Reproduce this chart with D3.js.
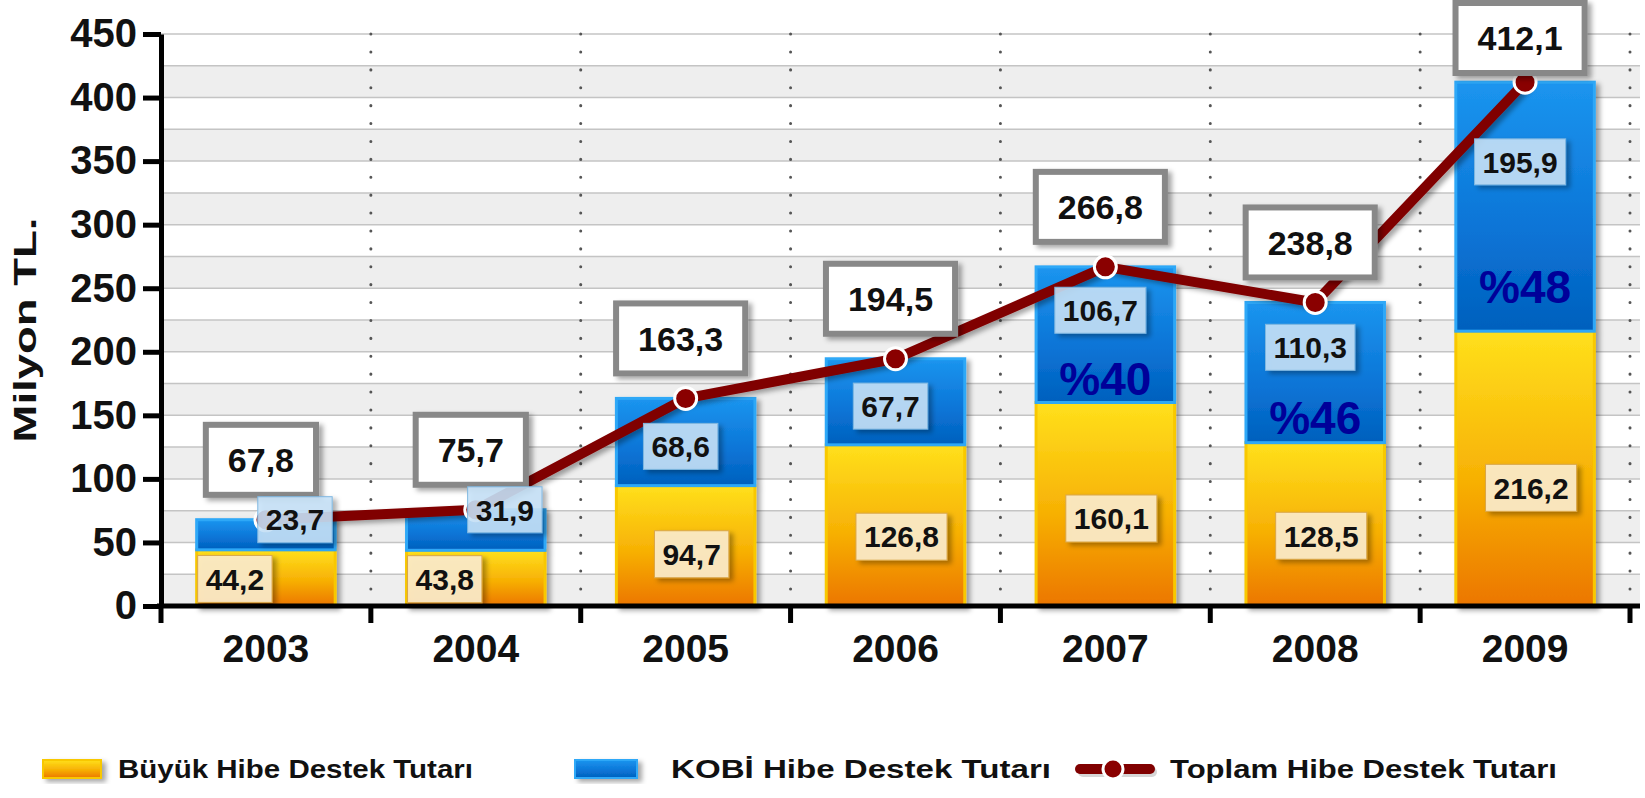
<!DOCTYPE html>
<html>
<head>
<meta charset="utf-8">
<script src="https://cdn.jsdelivr.net/npm/d3@7"></script>
<style>
  body { margin: 0; background: #fff; }
  text { font-family: "Liberation Sans", Arial, sans-serif; font-weight: bold; }
</style>
</head>
<body>
<div id="chart"></div>
<script>
// chart data
const years = ["2003", "2004", "2005", "2006", "2007", "2008", "2009"];
const buyukValues = [44.2, 43.8, 94.7, 126.8, 160.1, 128.5, 216.2];
const kobiValues = [23.7, 31.9, 68.6, 67.7, 106.7, 110.3, 195.9];
const totalValues = [67.8, 75.7, 163.3, 194.5, 266.8, 238.8, 412.1];
const percentYears = ["2007", "2008", "2009"];
const yTicks = [0, 50, 100, 150, 200, 250, 300, 350, 400, 450];
const legendLabels = ["Büyük Hibe Destek Tutarı", "KOBİ Hibe Destek Tutarı", "Toplam Hibe Destek Tutarı"];

const width = 1645, height = 798;
const plotLeft = 161, plotRight = 1630, plotTop = 34, plotBottom = 606, gridRight = 1640;

const fmt = v => v.toFixed(1).replace(".", ",");

const svg = d3.select("#chart").append("svg")
    .attr("width", width)
    .attr("height", height);

const defs = svg.append("defs");

// gradients for the bars and legend swatches
const orange = defs.append("linearGradient").attr("id", "orange")
    .attr("x1", 0).attr("y1", 0).attr("x2", 0).attr("y2", 1);
orange.append("stop").attr("offset", "0%").attr("stop-color", "#ffe01c");
orange.append("stop").attr("offset", "55%").attr("stop-color", "#f7b004");
orange.append("stop").attr("offset", "100%").attr("stop-color", "#ec7600");

const blue = defs.append("linearGradient").attr("id", "blue")
    .attr("x1", 0).attr("y1", 0).attr("x2", 0).attr("y2", 1);
blue.append("stop").attr("offset", "0%").attr("stop-color", "#1b95ef");
blue.append("stop").attr("offset", "60%").attr("stop-color", "#0b74d6");
blue.append("stop").attr("offset", "100%").attr("stop-color", "#0060bd");

const shadow = defs.append("filter").attr("id", "shadow")
    .attr("x", "-20%").attr("y", "-20%").attr("width", "150%").attr("height", "150%");
shadow.append("feDropShadow").attr("dx", 4).attr("dy", 3).attr("stdDeviation", 2.5)
    .attr("flood-color", "#000").attr("flood-opacity", 0.35);

// scales
const x = d3.scaleBand()
    .domain(years)
    .range([plotLeft, plotRight])
    .paddingInner(0.34)
    .paddingOuter(0.17);

const y = d3.scaleLinear()
    .domain([0, 450])
    .range([plotBottom, plotTop]);

const cx = d => x(d) + x.bandwidth() / 2;

// alternating grey bands and grid lines
svg.append("g").selectAll("rect")
    .data(d3.range(0, 450, 50))
    .enter()
    .append("rect")
    .attr("x", plotLeft)
    .attr("y", d => y(d + 25))
    .attr("width", gridRight - plotLeft)
    .attr("height", d => y(d) - y(d + 25))
    .attr("fill", "#eeeeee");

svg.append("g").selectAll("line")
    .data(d3.range(25, 451, 25))
    .enter()
    .append("line")
    .attr("x1", plotLeft)
    .attr("x2", gridRight)
    .attr("y1", d => y(d))
    .attr("y2", d => y(d))
    .attr("stroke", "#c4c4c4")
    .attr("stroke-width", 1.5);

// dotted separators between years
const boundaries = years.slice(1).map(d => x(d) - x.step() * x.paddingInner() / 2)
    .concat([plotRight]);
svg.append("g").selectAll("line")
    .data(boundaries)
    .enter()
    .append("line")
    .attr("x1", d => d)
    .attr("x2", d => d)
    .attr("y1", y(450))
    .attr("y2", plotBottom)
    .attr("stroke", "#555")
    .attr("stroke-width", 3)
    .attr("stroke-linecap", "round")
    .attr("stroke-dasharray", "0.1,17.8");

// stacked bars
const bars = svg.append("g").selectAll("g")
    .data(years)
    .enter()
    .append("g")
    .attr("filter", "url(#shadow)");

bars.append("rect")
    .attr("x", d => x(d))
    .attr("y", (d, i) => y(buyukValues[i]))
    .attr("width", x.bandwidth())
    .attr("height", (d, i) => y(0) - y(buyukValues[i]))
    .attr("fill", "url(#orange)")
    .attr("stroke", "#f8c800")
    .attr("stroke-width", 3);

bars.append("rect")
    .attr("x", d => x(d))
    .attr("y", (d, i) => y(buyukValues[i] + kobiValues[i]))
    .attr("width", x.bandwidth())
    .attr("height", (d, i) => y(buyukValues[i]) - y(buyukValues[i] + kobiValues[i]))
    .attr("fill", "url(#blue)")
    .attr("stroke", "#2ea8f7")
    .attr("stroke-width", 3);

// axes
const yAxis = svg.append("g")
    .attr("transform", `translate(${plotLeft},0)`)
    .call(d3.axisLeft(y).tickValues(yTicks).tickSize(18).tickSizeOuter(0).tickPadding(6));
yAxis.select(".domain").attr("stroke-width", 5);
yAxis.selectAll(".tick line").attr("stroke-width", 5);
yAxis.selectAll(".tick text")
    .style("font-size", "40px")
    .attr("font-family", null)
    .attr("fill", "#111");

const xAxis = svg.append("g")
    .attr("transform", `translate(0,${plotBottom})`)
    .call(d3.axisBottom(x).tickSize(0).tickPadding(28));
xAxis.select(".domain").remove();
xAxis.selectAll(".tick text")
    .style("font-size", "39px")
    .attr("font-family", null)
    .attr("fill", "#111");

svg.append("line")
    .attr("x1", plotLeft - 4).attr("x2", gridRight)
    .attr("y1", plotBottom).attr("y2", plotBottom)
    .attr("stroke", "#000").attr("stroke-width", 5);

svg.append("g").selectAll("line")
    .data([plotLeft].concat(boundaries))
    .enter()
    .append("line")
    .attr("x1", d => d).attr("x2", d => d)
    .attr("y1", plotBottom).attr("y2", plotBottom + 17)
    .attr("stroke", "#000").attr("stroke-width", 5);

// y-axis title
svg.append("text")
    .attr("transform", "translate(36,330) rotate(-90)")
    .attr("text-anchor", "middle")
    .attr("textLength", 225)
    .attr("lengthAdjust", "spacingAndGlyphs")
    .style("font-size", "32px")
    .attr("fill", "#111")
    .text("Milyon TL.");

// total line
const line = d3.line()
    .x((d, i) => cx(years[i]))
    .y(d => y(d));

svg.append("path")
    .datum(totalValues)
    .attr("d", line)
    .attr("fill", "none")
    .attr("stroke", "#800000")
    .attr("stroke-width", 10)
    .attr("stroke-linejoin", "round")
    .attr("filter", "url(#shadow)");

svg.append("g").selectAll("circle")
    .data(totalValues)
    .enter()
    .append("circle")
    .attr("cx", (d, i) => cx(years[i]))
    .attr("cy", d => y(d))
    .attr("r", 11)
    .attr("fill", "#8a0000")
    .attr("stroke", "#fff")
    .attr("stroke-width", 3);

// helper to draw a boxed label centered at (px, py)
function boxLabel(g, txt, px, py, opts) {
    const t = g.append("text")
        .attr("text-anchor", "middle")
        .style("font-size", opts.size + "px")
        .attr("fill", "#111")
        .text(txt);
    const w = t.node().getComputedTextLength() + opts.padX * 2;
    const h = opts.h;
    let bx = px - w / 2;
    if (opts.alignLeft !== undefined) bx = opts.alignLeft;
    if (opts.alignRight !== undefined) bx = opts.alignRight - w;
    let by = py - h / 2;
    if (opts.minTop !== undefined) by = Math.max(opts.minTop, by);
    g.insert("rect", "text")
        .attr("x", bx).attr("y", by)
        .attr("width", w).attr("height", h)
        .attr("fill", opts.fill)
        .attr("fill-opacity", opts.opacity || 1)
        .attr("stroke", opts.stroke)
        .attr("stroke-width", opts.strokeWidth)
        .attr("filter", "url(#shadow)");
    t.attr("x", bx + w / 2)
        .attr("y", by + h / 2)
        .attr("dy", "0.36em");
}

// total labels
years.forEach((d, i) => {
    const g = svg.append("g");
    boxLabel(g, fmt(totalValues[i]), cx(d) - 5, y(totalValues[i]) - 24 - 36, {
        size: 34, padX: 22, h: 70, fill: "#fff", stroke: "#888", strokeWidth: 6, minTop: 3
    });
});

// segment labels
years.forEach((d, i) => {
    const g = svg.append("g");
    const small = totalValues[i] < 100;
    const showPct = percentYears.includes(d);
    const b0 = y(0), b1 = y(buyukValues[i]), b2 = y(buyukValues[i] + kobiValues[i]);

    const kobiY = small ? b2 : (showPct ? b2 + (b1 - b2) * 0.32 : b2 + (b1 - b2) * 0.55);
    boxLabel(g, fmt(kobiValues[i]), cx(d) - 5, kobiY, {
        size: 30, padX: 8, h: 46, fill: "#c7e3f8", opacity: 0.88, stroke: "#7fb7e0", strokeWidth: 1,
        alignRight: small ? x(d) + x.bandwidth() - 3 : undefined
    });

    const buyukY = small ? (b0 + b1) / 2 + 1 : b1 + (b0 - b1) * 0.57;
    boxLabel(g, fmt(buyukValues[i]), cx(d) + 6, buyukY, {
        size: 30, padX: 8, h: 47, fill: "#fcebc9", opacity: 0.92, stroke: "#d9a64a", strokeWidth: 1,
        alignLeft: small ? x(d) + 1 : undefined
    });

    if (showPct) {
        const pct = Math.round(kobiValues[i] / totalValues[i] * 100);
        g.append("text")
            .attr("x", cx(d))
            .attr("y", b2 + (b1 - b2) * 0.82)
            .attr("dy", "0.36em")
            .attr("text-anchor", "middle")
            .style("font-size", "46px")
            .attr("fill", "#000099")
            .text("%" + pct);
    }
});

// legend
const legend = svg.append("g");
const legendX = [43, 575, 1080];
const textX = [118, 671, 1170];
const textW = [355, 380, 387];

legend.append("rect")
    .attr("x", legendX[0]).attr("y", 760).attr("width", 58).attr("height", 18)
    .attr("fill", "url(#orange)").attr("stroke", "#f8c800").attr("stroke-width", 2)
    .attr("filter", "url(#shadow)");
legend.append("rect")
    .attr("x", legendX[1]).attr("y", 760).attr("width", 62).attr("height", 18)
    .attr("fill", "url(#blue)").attr("stroke", "#2ea8f7").attr("stroke-width", 2)
    .attr("filter", "url(#shadow)");
legend.append("line")
    .attr("x1", legendX[2] + 3).attr("x2", legendX[2] + 72)
    .attr("y1", 772).attr("y2", 772)
    .attr("stroke", "#bbb").attr("stroke-width", 10)
    .attr("stroke-linecap", "round")
    .attr("opacity", 0.6);
legend.append("line")
    .attr("x1", legendX[2]).attr("x2", legendX[2] + 70)
    .attr("y1", 769).attr("y2", 769)
    .attr("stroke", "#800000").attr("stroke-width", 10)
    .attr("stroke-linecap", "round");
legend.append("circle")
    .attr("cx", legendX[2] + 33).attr("cy", 769).attr("r", 10)
    .attr("fill", "#8a0000").attr("stroke", "#fff").attr("stroke-width", 3);

legend.selectAll("text.leg")
    .data(legendLabels)
    .enter()
    .append("text")
    .attr("class", "leg")
    .attr("x", (d, i) => textX[i])
    .attr("y", 778)
    .attr("textLength", (d, i) => textW[i])
    .attr("lengthAdjust", "spacingAndGlyphs")
    .style("font-size", "25px")
    .attr("fill", "#111")
    .text(d => d);
</script>
</body>
</html>
